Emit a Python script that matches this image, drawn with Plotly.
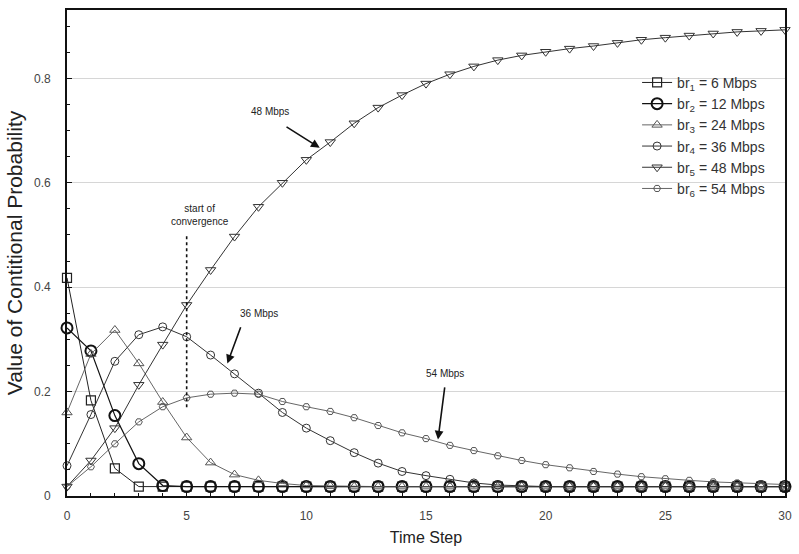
import plotly.graph_objects as go

# Time steps and conditional probability of each bit rate
steps = list(range(0, 31))

br1_6 = [0.418, 0.183, 0.053, 0.018, 0.018, 0.018, 0.018, 0.018, 0.018, 0.018,
         0.018, 0.018, 0.018, 0.018, 0.018, 0.018, 0.018, 0.018, 0.018, 0.018,
         0.018, 0.018, 0.018, 0.018, 0.018, 0.018, 0.018, 0.018, 0.018, 0.018, 0.018]
br2_12 = [0.322, 0.278, 0.154, 0.062, 0.020, 0.018, 0.018, 0.018, 0.018, 0.018,
          0.018, 0.018, 0.018, 0.018, 0.018, 0.018, 0.018, 0.018, 0.018, 0.018,
          0.018, 0.018, 0.018, 0.018, 0.018, 0.018, 0.018, 0.018, 0.018, 0.018, 0.018]
br3_24 = [0.160, 0.272, 0.318, 0.254, 0.180, 0.112, 0.064, 0.041, 0.030, 0.024,
          0.020, 0.019, 0.018, 0.018, 0.018, 0.018, 0.018, 0.018, 0.018, 0.018,
          0.018, 0.018, 0.018, 0.018, 0.018, 0.018, 0.018, 0.018, 0.018, 0.018, 0.018]
br4_36 = [0.058, 0.156, 0.258, 0.309, 0.324, 0.305, 0.270, 0.234, 0.197, 0.160,
          0.130, 0.106, 0.083, 0.063, 0.047, 0.039, 0.032, 0.025, 0.021, 0.019,
          0.018, 0.018, 0.018, 0.018, 0.018, 0.018, 0.018, 0.018, 0.018, 0.018, 0.018]
br5_48 = [0.018, 0.068, 0.130, 0.213, 0.290, 0.366, 0.433, 0.497, 0.554, 0.600,
          0.644, 0.678, 0.714, 0.744, 0.768, 0.790, 0.808, 0.823, 0.835, 0.844,
          0.851, 0.857, 0.862, 0.868, 0.874, 0.878, 0.882, 0.886, 0.889, 0.891, 0.893]
br6_54 = [0.018, 0.056, 0.100, 0.142, 0.171, 0.188, 0.195, 0.197, 0.195, 0.181,
          0.171, 0.162, 0.150, 0.135, 0.121, 0.110, 0.097, 0.087, 0.077, 0.068,
          0.060, 0.054, 0.047, 0.042, 0.037, 0.033, 0.030, 0.027, 0.025, 0.023, 0.022]

names = ["br<sub>1</sub> = 6 Mbps", "br<sub>2</sub> = 12 Mbps", "br<sub>3</sub> = 24 Mbps",
         "br<sub>4</sub> = 36 Mbps", "br<sub>5</sub> = 48 Mbps", "br<sub>6</sub> = 54 Mbps"]
series = [br1_6, br2_12, br3_24, br4_36, br5_48, br6_54]
symbols = ["square-open", "circle-open", "triangle-up-open", "circle-open",
           "triangle-down-open", "hexagon2-open"]
sizes = [9, 11, 9, 8, 9, 7]
mline = [1.2, 2.0, 1.0, 1.0, 1.0, 1.0]
colors = ["#222222", "#111111", "#555555", "#333333", "#333333", "#555555"]
lwidth = [1.0, 1.2, 0.9, 1.0, 1.0, 0.9]

FONT = "Liberation Sans, Arial, sans-serif"

fig = go.Figure()
for nm, ys, sym, sz, mw, c, lw in zip(names, series, symbols, sizes, mline, colors, lwidth):
    fig.add_trace(go.Scatter(
        x=steps, y=ys, name=nm, mode="lines+markers", cliponaxis=False,
        line=dict(color=c, width=lw),
        marker=dict(symbol=sym, size=sz, color=c, line=dict(color=c, width=mw)),
    ))

# Annotations: labelled arrows and convergence marker
arrow = dict(showarrow=True, arrowhead=2, arrowsize=1.1, arrowwidth=1.6,
             arrowcolor="#111111", axref="x", ayref="y", text="")
fig.add_annotation(x=10.56, y=0.667, ax=9.11, ay=0.709, **arrow)
fig.add_annotation(x=6.70, y=0.254, ax=7.28, ay=0.326, **arrow)
fig.add_annotation(x=15.50, y=0.108, ax=15.79, ay=0.211, **arrow)

lab = dict(showarrow=False, font=dict(family=FONT, size=10, color="#222222"))
fig.add_annotation(x=8.49, y=0.736, text="48 Mbps", **lab)
fig.add_annotation(x=8.03, y=0.349, text="36 Mbps", **lab)
fig.add_annotation(x=15.79, y=0.234, text="54 Mbps", **lab)
fig.add_annotation(x=5.54, y=0.538, text="start of<br>convergence", **lab)

fig.add_shape(type="line", x0=5, x1=5, y0=0.17, y1=0.50, xref="x", yref="y",
              line=dict(color="#111111", width=1.6, dash="dot"))

fig.update_layout(
    width=799, height=554,
    margin=dict(l=67, r=14, t=10, b=58),
    paper_bgcolor="white", plot_bgcolor="white",
    font=dict(family=FONT, color="#333333"),
    showlegend=True,
    legend=dict(x=0.794, y=0.883, xanchor="left", yanchor="top",
                bgcolor="rgba(255,255,255,0)", font=dict(family=FONT, size=14, color="#333333"),
                tracegroupgap=0, itemwidth=30),
)
fig.update_xaxes(
    range=[0, 30], tickmode="array", tickvals=[0, 5, 10, 15, 20, 25, 30],
    ticks="inside", ticklen=5, tickcolor="#111111",
    minor=dict(dtick=1, ticks="inside", ticklen=3, tickcolor="#111111"),
    showline=True, linecolor="#111111", linewidth=1.6, mirror=True,
    showgrid=False, zeroline=False, ticklabelstandoff=8, automargin=False,
    tickfont=dict(family=FONT, size=12, color="#444444"),
    title=dict(text="Time Step", font=dict(family=FONT, size=16, color="#222222"), standoff=10),
)
fig.update_yaxes(
    range=[0, 0.931], tickmode="array", tickvals=[0, 0.2, 0.4, 0.6, 0.8],
    ticktext=["0", "0.2", "0.4", "0.6", "0.8"],
    ticks="inside", ticklen=5, tickcolor="#111111",
    minor=dict(dtick=0.05, ticks="inside", ticklen=3, tickcolor="#111111", showgrid=False),
    showline=True, linecolor="#111111", linewidth=1.6, mirror=True,
    showgrid=True, gridcolor="#d6d6d6", gridwidth=1.2, zeroline=False,
    ticklabelstandoff=12, automargin=False,
    tickfont=dict(family=FONT, size=12, color="#444444"),
    title=dict(text="Value of Contitional Probability", font=dict(family=FONT, size=21, color="#222222"), standoff=6),
)

fig.write_html("out.html")
